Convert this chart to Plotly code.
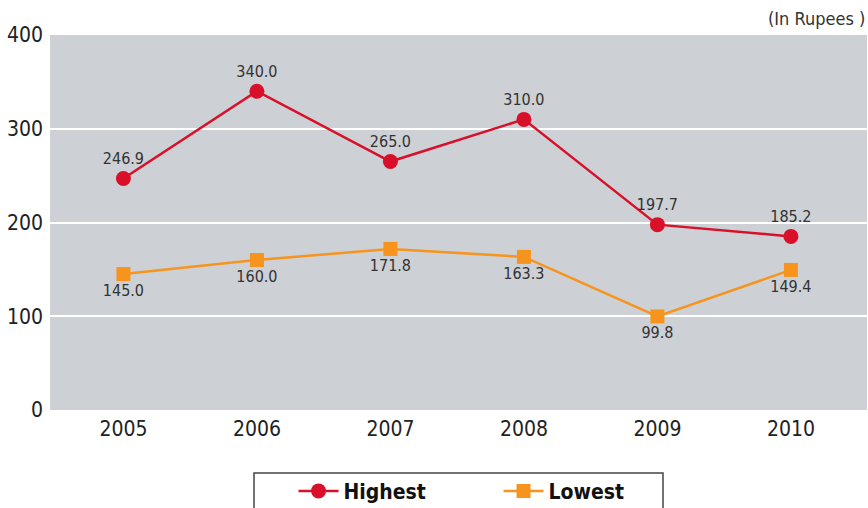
import plotly.graph_objects as go

years = ["2005", "2006", "2007", "2008", "2009", "2010"]
highest = [246.9, 340.0, 265.0, 310.0, 197.7, 185.2]
lowest = [145.0, 160.0, 171.8, 163.3, 99.8, 149.4]
y_ticks = [0, 100, 200, 300, 400]

FONT = "Liberation Sans Narrow, DejaVu Sans Condensed, Arial Narrow, sans-serif"
RED = "#d9102a"
ORANGE = "#f7941d"

fig = go.Figure()
fig.add_trace(go.Scatter(
    x=years, y=highest, name="Highest", mode="lines+markers+text",
    line=dict(color=RED, width=2.5),
    marker=dict(symbol="circle", size=15, color=RED),
    text=[f"{v:.1f}" for v in highest], textposition="top center",
    textfont=dict(family=FONT, size=16, color="#333333"),
))
fig.add_trace(go.Scatter(
    x=years, y=lowest, name="Lowest", mode="lines+markers+text",
    line=dict(color=ORANGE, width=2.5),
    marker=dict(symbol="square", size=14, color=ORANGE),
    text=[f"{v:.1f}" for v in lowest], textposition="bottom center",
    textfont=dict(family=FONT, size=16, color="#333333"),
))

fig.update_layout(
    width=868, height=508,
    margin=dict(l=50, r=1, t=35, b=98),
    paper_bgcolor="white", plot_bgcolor="#cdd0d4",
    font=dict(family=FONT, color="#222222"),
    showlegend=True,
    legend=dict(
        orientation="h", x=0.549, xanchor="center",
        yref="container", y=0.033, yanchor="middle",
        font=dict(family=FONT, size=21, color="#111111", weight="bold"),
        bgcolor="rgba(0,0,0,0)", entrywidth=150, itemwidth=40,
        traceorder="normal",
    ),
    xaxis=dict(
        type="category", range=[-0.55, 5.57], showgrid=False, zeroline=False,
        showline=False, ticks="", tickfont=dict(family=FONT, size=21, color="#222222"),
        ticklabelstandoff=4,
    ),
    yaxis=dict(
        range=[0, 400], tickvals=y_ticks, showgrid=True, gridcolor="white",
        gridwidth=2, zeroline=False, showline=False, ticks="",
        tickfont=dict(family=FONT, size=21, color="#222222"),
        ticklabelstandoff=6,
    ),
    shapes=[dict(
        type="rect", xref="paper", yref="paper",
        x0=0.2497, x1=0.7503, y0=-0.275, y1=-0.168,
        line=dict(color="#444444", width=1.5), fillcolor="rgba(0,0,0,0)",
    )],
    annotations=[dict(
        text="(In Rupees )", xref="paper", yref="paper", x=1.0, y=1.0,
        xanchor="right", yanchor="bottom", yshift=4, showarrow=False,
        font=dict(family=FONT, size=18, color="#333333"),
    )],
)

fig.write_html("out.html")
